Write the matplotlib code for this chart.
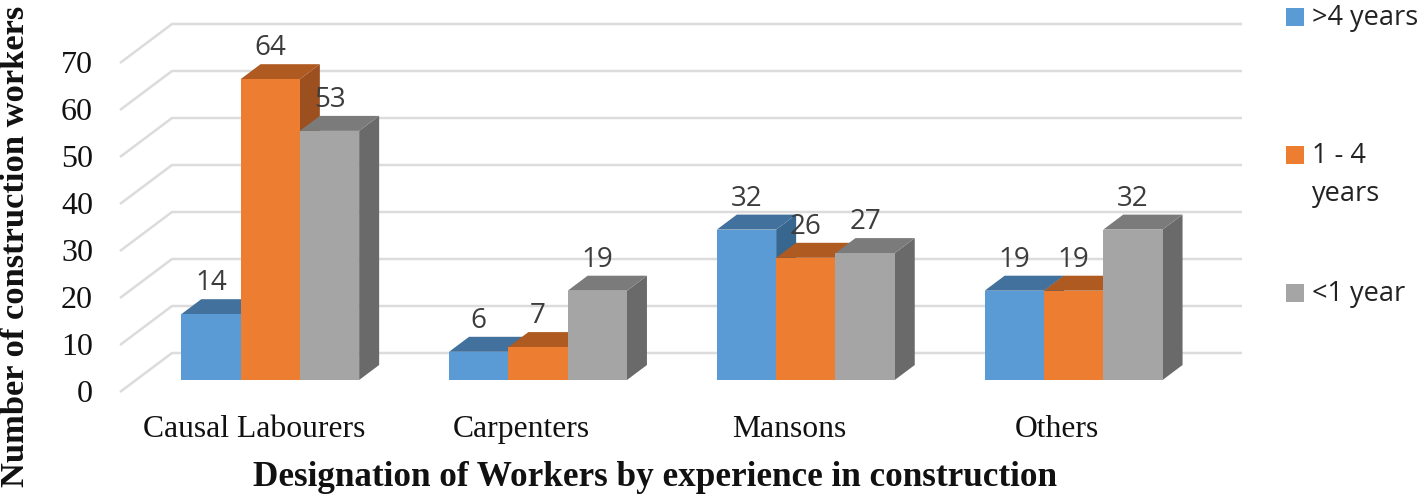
import matplotlib
matplotlib.use('Agg')
import matplotlib.pyplot as plt
from matplotlib.patches import Polygon, Rectangle
from matplotlib.transforms import Affine2D

W, H = 1418, 496

categories = ['Causal Labourers', 'Carpenters', 'Mansons', 'Others']
over_4 = [14, 6, 32, 19]
one_to_4 = [64, 7, 26, 19]
under_1 = [53, 19, 27, 32]
y_ticks = [0, 10, 20, 30, 40, 50, 60, 70]
legend_text = ['>4 years', '1 - 4\nyears', '<1 year']

front = ['#5b9bd5', '#ed7d31', '#a5a5a5']
top = ['#41719c', '#ae5a21', '#7b7b7b']
side = ['#37668f', '#9c5020', '#6a6a6a']

PX_X = 267.8     # pixels per category
PX_Y = 4.7       # pixels per worker
BAR_W = 59.3 / PX_X
DX = 20 / PX_X   # bar depth
DY = 15 / PX_Y
X0 = 270.2       # pixel of first category centre

fig = plt.figure(figsize=(W / 100, H / 100), dpi=100)
ax = fig.add_axes([0, 0, 1, 1])
ax.set_xlim(-X0 / PX_X, (W - X0) / PX_X)
ax.set_ylim((380 - H) / PX_Y, 380 / PX_Y)
ax.axis('off')

# pixel coordinates of the picture, for the text and legend layout
px = Affine2D().scale(1 / W, -1 / H).translate(0, 1) + fig.transFigure

# walls: floor sits a little in front of and behind the bars
wall_x0 = (120 - X0) / PX_X
wall_dx = 52 / PX_X
wall_dy = 39 / PX_Y
wall_y0 = -12 / PX_Y
wall_x1 = (1242 - X0) / PX_X
for t in y_ticks:
    y = t + wall_y0
    ax.plot([wall_x0, wall_x0 + wall_dx, wall_x1], [y, y + wall_dy, y + wall_dy],
            color='#dcdcdc', lw=1.8, zorder=1, solid_capstyle='butt')
    ax.text((93 - X0) / PX_X, t - 10 / PX_Y - 1.0, str(t), family='Liberation Serif',
            fontsize=23, ha='right', va='center', color='#111111')

for i, cat in enumerate(categories):
    values = [over_4[i], one_to_4[i], under_1[i]]
    for j, v in enumerate(values):
        x0 = i + (j - 1.5) * BAR_W
        x1 = x0 + BAR_W
        z = 2 + j
        ax.add_patch(Polygon([(x1, 0), (x1 + DX, DY), (x1 + DX, v + DY), (x1, v)],
                             fc=side[j], ec='none', zorder=z))
        ax.add_patch(Polygon([(x0, v), (x1, v), (x1 + DX, v + DY), (x0 + DX, v + DY)],
                             fc=top[j], ec='none', zorder=z))
        ax.bar(x0, v, width=BAR_W, align='edge', color=front[j], zorder=z)
        ax.text(x0 + BAR_W / 2, v + 6.6, str(v), family='Open Sans', fontsize=20,
                ha='center', va='center', color='#3c3c3c', zorder=10)
    ax.text(i - 16.5 / PX_X, -47 / PX_Y - 0.6, cat, family='Liberation Serif',
            fontsize=22.8, ha='center', va='center', color='#111111')

ax.text(655, 478, 'Designation of Workers by experience in construction', transform=px,
        family='Liberation Serif', weight='bold', fontsize=25.3, ha='center',
        va='center', color='#111111')
ax.text(16, 246, 'Number of construction workers', transform=px, rotation=90,
        family='Liberation Serif', weight='bold', fontsize=24.8, ha='center',
        va='center', color='#111111')

# legend
legend_y = [17, 155, 293]
for j in range(3):
    ax.add_patch(Rectangle((1286, legend_y[j] - 9), 18, 18, fc=front[j], ec='none', transform=px))
    ax.text(1312, legend_y[j] + (-13 if j == 1 else 1), legend_text[j], transform=px,
            family='Open Sans', fontsize=19.5, ha='left',
            va='top' if j == 1 else 'center', color='#222222', linespacing=1.5)

fig.savefig('out.png', dpi=100)
